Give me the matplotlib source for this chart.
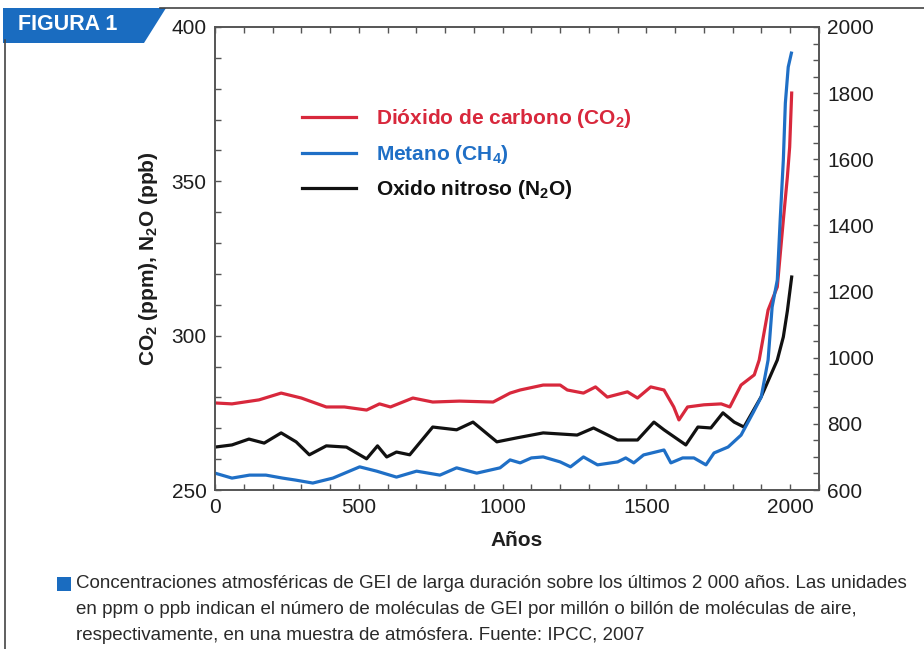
import matplotlib
matplotlib.use('Agg')
import matplotlib.pyplot as plt
from matplotlib.ticker import MultipleLocator
from matplotlib.patches import Polygon, Rectangle
from matplotlib.lines import Line2D

plt.rcParams['font.family'] = ['Liberation Sans', 'DejaVu Sans']
plt.rcParams['mathtext.fontset'] = 'custom'
plt.rcParams['mathtext.rm'] = 'Liberation Sans'
plt.rcParams['mathtext.bf'] = 'Liberation Sans:bold'
plt.rcParams['mathtext.default'] = 'bf'

# values (IPCC 2007, last 2000 years)
co2_years = [0, 59, 153, 230, 300, 387, 450, 527, 572, 610, 688, 757, 850, 967, 1026, 1061,
             1141, 1200, 1225, 1281, 1323, 1364, 1434, 1469, 1515, 1561, 1595, 1613, 1643,
             1700, 1760, 1790, 1829, 1875, 1892, 1923, 1955, 1976, 1990, 1998, 2005]
co2_ppm = [278.2, 277.9, 279.2, 281.4, 279.8, 276.9, 276.9, 275.9, 277.9, 276.9, 279.8,
           278.5, 278.8, 278.5, 281.4, 282.4, 284.0, 284.0, 282.4, 281.4, 283.4, 280.1,
           281.8, 279.8, 283.4, 282.4, 276.9, 272.7, 276.9, 277.6, 277.9, 276.9, 284.0,
           287.3, 292.1, 308.3, 315.8, 337.5, 351.4, 361.1, 378.6]

ch4_years = [0, 59, 120, 177, 235, 280, 340, 410, 503, 562, 631, 701, 782, 840, 910, 991,
             1026, 1061, 1100, 1141, 1200, 1236, 1281, 1330, 1400, 1428, 1456, 1490, 1561,
             1585, 1626, 1665, 1707, 1735, 1784, 1829, 1871, 1899, 1923, 1937, 1955, 1965,
             1976, 1983, 1993, 2004]
ch4_ppb = [651, 636, 645, 645, 636, 630, 621, 636, 670, 657, 639, 657, 645, 667, 651, 667,
           691, 682, 697, 700, 685, 670, 700, 676, 685, 697, 682, 706, 721, 682, 697, 697,
           676, 712, 730, 766, 834, 881, 993, 1153, 1235, 1416, 1598, 1770, 1879, 1921]

n2o_years = [0, 59, 118, 171, 230, 282, 328, 387, 457, 527, 565, 597, 631, 677, 757, 840,
             897, 980, 1050, 1141, 1259, 1316, 1400, 1469, 1526, 1561, 1637, 1679, 1724,
             1766, 1805, 1839, 1899, 1955, 1976, 1990, 2005]
n2o_ppb = [263.9, 264.6, 266.5, 265.2, 268.5, 265.6, 261.4, 264.3, 263.9, 260.1, 264.3,
           260.7, 262.3, 261.4, 270.4, 269.5, 272.0, 265.6, 266.9, 268.5, 267.8, 270.1,
           266.2, 266.2, 272.0, 269.5, 264.6, 270.4, 270.1, 275.0, 272.0, 270.4, 280.2,
           292.1, 299.6, 308.0, 319.0]

red = '#d8283c'
blue = '#1f6fc6'
black = '#111111'
tab_blue = '#1a6cc0'
txt = '#1e1e1e'

W, H = 924, 649
fig = plt.figure(figsize=(W / 100, H / 100), dpi=100)
ax = fig.add_axes([215 / W, 1 - 490 / H, (819 - 215) / W, (490 - 27) / H])
ax2 = ax.twinx()

l_co2, = ax.plot(co2_years, co2_ppm, color=red, lw=2.3, label=r'Dióxido de carbono (CO$_2$)')
l_n2o, = ax.plot(n2o_years, n2o_ppb, color=black, lw=2.3, label=r'Oxido nitroso (N$_2$O)')
l_ch4, = ax2.plot(ch4_years, ch4_ppb, color=blue, lw=2.3, label=r'Metano (CH$_4$)')

ax.set_xlim(0, 2100)
ax.set_ylim(250, 400)
ax2.set_ylim(600, 2000)

ax.xaxis.set_major_locator(MultipleLocator(500))
ax.xaxis.set_minor_locator(MultipleLocator(100))
ax.yaxis.set_major_locator(MultipleLocator(50))
ax.yaxis.set_minor_locator(MultipleLocator(10))
ax2.yaxis.set_major_locator(MultipleLocator(200))
ax2.yaxis.set_minor_locator(MultipleLocator(50))

for a in (ax, ax2):
    for s in a.spines.values():
        s.set_color('#555555')
        s.set_linewidth(1.2)
ax.tick_params(which='both', direction='in', top=True, right=False, length=4,
               width=1, color='#555555', labelsize=15, labelcolor=txt, pad=6)
ax2.tick_params(which='both', direction='in', length=4, width=1, color='#555555',
                labelsize=15, labelcolor=txt, pad=6)

ax.set_xlabel('Años', fontsize=15, fontweight='bold', color=txt, labelpad=10)
ax.set_ylabel(r'CO$_2$ (ppm), N$_2$O (ppb)', fontsize=15, fontweight='bold',
              color=txt, labelpad=8)

leg = ax2.legend([l_co2, l_ch4, l_n2o], [l_co2.get_label(), l_ch4.get_label(), l_n2o.get_label()],
                 loc='upper left', bbox_to_anchor=(292 / W, 1 - 97 / H),
                 bbox_transform=fig.transFigure, frameon=False, borderpad=0,
                 handlelength=2.55, handletextpad=1.0, labelspacing=0.6,
                 prop={'size': 15, 'weight': 'bold'})
for t, c in zip(leg.get_texts(), [red, blue, black]):
    t.set_color(c)

# frame and title tab
fig.add_artist(Line2D([5 / W, 5 / W], [0, 1 - 40 / H], transform=fig.transFigure,
                      color='#444444', lw=1.2))
fig.add_artist(Line2D([160 / W, 1], [1 - 8 / H, 1 - 8 / H], transform=fig.transFigure,
                      color='#444444', lw=1.2))
fig.add_artist(Polygon([(3 / W, 1 - 8 / H), (166 / W, 1 - 8 / H), (144 / W, 1 - 43 / H),
                        (3 / W, 1 - 43 / H)], closed=True, transform=fig.transFigure,
                       facecolor=tab_blue, edgecolor='none'))
fig.text(18 / W, 1 - 25 / H, 'FIGURA 1', color='white', fontsize=15.5, fontweight='bold',
         va='center', ha='left')

# caption
fig.add_artist(Rectangle((57 / W, 1 - 591 / H), 14 / W, 14 / H, transform=fig.transFigure,
                         facecolor=tab_blue, edgecolor='none'))
caption = ['Concentraciones atmosféricas de GEI de larga duración sobre los últimos 2 000 años. Las unidades',
           'en ppm o ppb indican el número de moléculas de GEI por millón o billón de moléculas de aire,',
           'respectivamente, en una muestra de atmósfera. Fuente: IPCC, 2007']
for i, line in enumerate(caption):
    fig.text(76 / W, 1 - (584 + 26 * i) / H, line, fontsize=13.5, color='#2a2a2a',
             va='center', ha='left')

fig.savefig('out.png', dpi=100)
